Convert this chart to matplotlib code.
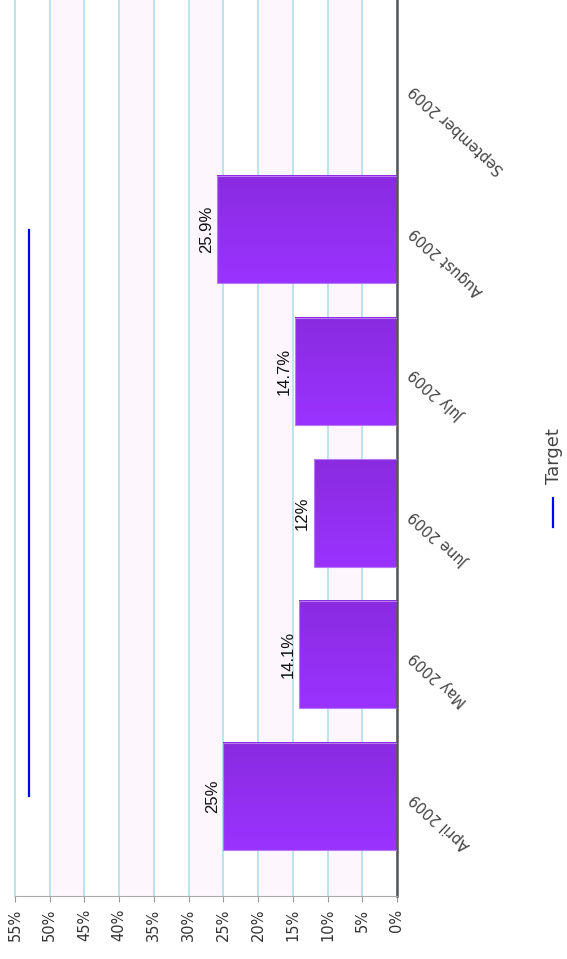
import numpy as np
import matplotlib.pyplot as plt
from matplotlib.colors import LinearSegmentedColormap
from matplotlib.lines import Line2D
from matplotlib.patches import Rectangle

# monthly share against a fixed target
months = ['April 2009', 'May 2009', 'June 2009', 'July 2009',
          'August 2009', 'September 2009']
share = [25, 14.1, 12, 14.7, 25.9, np.nan]
target = [53, 53, 53, 53, 53, np.nan]
ticks = list(range(0, 60, 5))
tick_labels = [f'{t}%' for t in ticks]

fig = plt.figure(figsize=(5.67, 9.59), dpi=100)
ax = fig.add_axes([15 / 567, 63 / 959, 382 / 567, 896 / 959])

# alternating pale bands between the gridlines
for k in range(5, 55, 10):
    ax.axvspan(k, k + 5, color='#fdf7fd', zorder=0, lw=0)
ax.set_xticks(ticks)
ax.set_xticklabels(tick_labels)
ax.grid(axis='x', color='#b4e2ea', lw=1.3, zorder=1)
ax.set_axisbelow(True)
for gl in ax.get_xgridlines():
    gl.set_clip_on(False)

# bars with a slight purple gradient across their thickness
grad = np.linspace(0, 1, 64).reshape(-1, 1)
cmap = LinearSegmentedColormap.from_list('bar', ['#9a33ff', '#8a2be0'])
h = 0.756
for i, v in enumerate(share):
    if np.isnan(v):
        continue
    ax.imshow(grad, cmap=cmap, origin='lower', aspect='auto',
              extent=[0, v, i - h / 2, i + h / 2], zorder=2,
              interpolation='bilinear')
    ax.add_patch(Rectangle((0, i - h / 2), v, h, fill=False,
                           ec='#b57bf5', lw=0.8, zorder=3))
    ax.annotate(f'{v:g}%', (v, i), xytext=(-2.5, 0), textcoords='offset points',
                rotation=90, ha='right', va='center', fontsize=12,
                color='#111', family='Liberation Sans')

ax.plot(target, range(len(months)), color='#0000ff', lw=1.6, zorder=4)

ax.set_xlim(55, 0)
ax.set_ylim(-0.703, 5.62)

for s in ('left', 'top'):
    ax.spines[s].set_visible(False)
ax.spines['right'].set_color('#555555')
ax.spines['right'].set_linewidth(1.8)
ax.spines['bottom'].set_color('#aaaaaa')

ax.tick_params(axis='x', length=4, color='#999999', labelrotation=90,
               labelsize=10.5, labelcolor='#333333', pad=5)
ax.yaxis.tick_right()
ax.set_yticks(range(len(months)))
ax.set_yticklabels(months, rotation=137, ha='right', va='center',
                   rotation_mode='anchor')
ax.tick_params(axis='y', length=0, pad=11, labelsize=10.5, labelcolor='#444444')

# legend entry drawn upright along the right edge
fig.add_artist(Line2D([553 / 567] * 2, [1 - 498 / 959, 1 - 527 / 959],
                      color='#0000ff', lw=1.6))
fig.text(554 / 567, 1 - 456 / 959, 'Target', rotation=90, ha='center',
         va='center', fontsize=13, color='#444444')

fig.savefig('out.png', dpi=100)
